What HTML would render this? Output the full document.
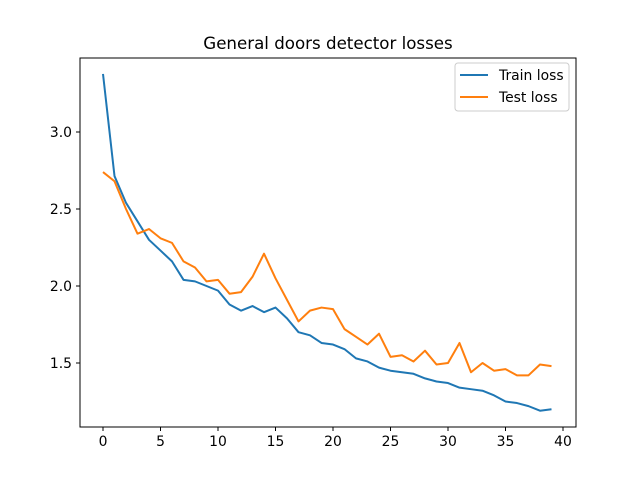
<!DOCTYPE html>
<html><head><meta charset="utf-8"><style>
body{margin:0;background:#fff}
svg text{font-family:"DejaVu Sans","Liberation Sans",sans-serif;fill:#000}
</style></head><body>
<svg id="chart" width="640" height="480">
<rect width="640" height="480" fill="#fff"/>
<text x="328" y="49" font-size="16.67" text-anchor="middle">General doors detector losses</text>
<g id="marks"></g>
<g id="axes"></g>
<rect x="80" y="58" width="496" height="369" fill="none" stroke="#000" stroke-width="1"/>
<g>
<rect x="455" y="63" width="114" height="48" rx="3" fill="#fff" fill-opacity="0.8" stroke="#ccc"/>
<line x1="460" y1="75" x2="488" y2="75" stroke="#1f77b4" stroke-width="2"/>
<text x="499" y="80" font-size="13.9">Train loss</text>
<line x1="460" y1="97" x2="488" y2="97" stroke="#ff7f0e" stroke-width="2"/>
<text x="499" y="102" font-size="13.9">Test loss</text>
</g>
</svg>
<script>
const trainLoss=[3.377,2.714,2.54,2.42,2.30,2.23,2.16,2.04,2.03,2.00,1.97,1.88,1.84,1.87,1.83,1.86,1.79,1.70,1.68,1.63,1.62,1.59,1.53,1.51,1.47,1.45,1.44,1.43,1.40,1.38,1.37,1.34,1.33,1.32,1.29,1.25,1.24,1.22,1.19,1.20];
const testLoss=[2.74,2.68,2.50,2.34,2.37,2.31,2.28,2.16,2.12,2.03,2.04,1.95,1.96,2.06,2.21,2.05,1.91,1.77,1.84,1.86,1.85,1.72,1.67,1.62,1.69,1.54,1.55,1.51,1.58,1.49,1.50,1.63,1.44,1.50,1.45,1.46,1.42,1.42,1.49,1.48];
const xTicks=[0,5,10,15,20,25,30,35,40];
const yTicks=[1.5,2.0,2.5,3.0];
const yTickLabels=["1.5","2.0","2.5","3.0"];
const NS="http://www.w3.org/2000/svg";
const xs=v=>103+v*11.5;
const ys=v=>132-(v-3.0)*154;
const marks=document.getElementById('marks'),axes=document.getElementById('axes');
function line(series,color,name){
  const p=document.createElementNS(NS,'polyline');
  p.setAttribute('points',series.map((v,i)=>xs(i)+','+ys(v)).join(' '));
  p.setAttribute('fill','none');p.setAttribute('stroke',color);p.setAttribute('stroke-width','2');
  p.setAttribute('stroke-linejoin','round');
  
  
  marks.appendChild(p);
}
line(trainLoss,'#1f77b4','train-loss-line');
line(testLoss,'#ff7f0e','test-loss-line');
xTicks.forEach(t=>{
  const l=document.createElementNS(NS,'line');
  l.setAttribute('x1',xs(t));l.setAttribute('x2',xs(t));l.setAttribute('y1',427);l.setAttribute('y2',431);l.setAttribute('stroke','#000');
  
  
  axes.appendChild(l);
  const tx=document.createElementNS(NS,'text');
  tx.setAttribute('x',xs(t));tx.setAttribute('y',446);tx.setAttribute('font-size','13.9');tx.setAttribute('text-anchor','middle');
  tx.textContent=t;
  
  
  axes.appendChild(tx);
});
yTicks.forEach((t,i)=>{
  const l=document.createElementNS(NS,'line');
  l.setAttribute('x1',76);l.setAttribute('x2',80);l.setAttribute('y1',ys(t));l.setAttribute('y2',ys(t));l.setAttribute('stroke','#000');
  
  
  axes.appendChild(l);
  const tx=document.createElementNS(NS,'text');
  tx.setAttribute('x',72);tx.setAttribute('y',ys(t)+5);tx.setAttribute('font-size','13.9');tx.setAttribute('text-anchor','end');
  tx.textContent=yTickLabels[i];
  
  
  axes.appendChild(tx);
});
</script>
</body></html>
